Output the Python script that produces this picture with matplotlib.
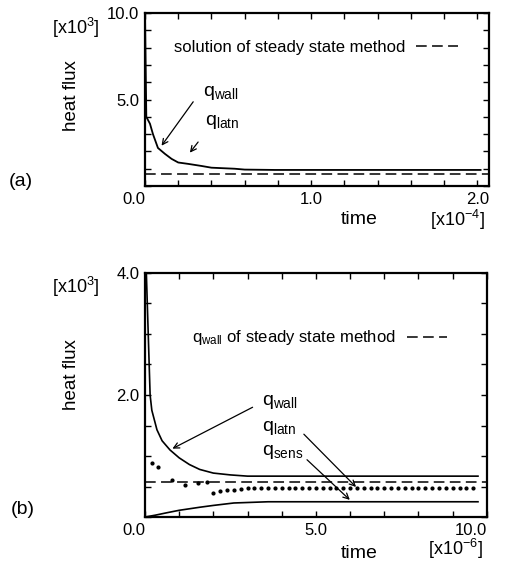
import numpy as np
import matplotlib
matplotlib.use("Agg")
import matplotlib.pyplot as plt

plt.rcParams['font.family'] = ['Liberation Sans', 'DejaVu Sans']
plt.rcParams['mathtext.fontset'] = 'custom'
plt.rcParams['mathtext.rm'] = 'Liberation Sans'
plt.rcParams['mathtext.it'] = 'Liberation Sans:italic'
plt.rcParams['mathtext.bf'] = 'Liberation Sans:bold'

# ---- panel (a): time in 1e-4, heat flux in 1e3
a_time = [0.0, 0.008, 0.03, 0.048, 0.078, 0.12, 0.16, 0.2, 0.26, 0.34, 0.4,
          0.54, 0.6, 0.78, 1.0, 1.5, 2.02]
a_qwall = [10.0, 4.0, 3.6, 3.0, 2.2, 1.86, 1.57, 1.36, 1.28, 1.16, 1.06,
           1.0, 0.95, 0.93, 0.93, 0.93, 0.93]
a_steady = 0.72

# ---- panel (b): time in 1e-6, heat flux in 1e3
b_time_wall = [0.04, 0.15, 0.2, 0.35, 0.5, 0.73, 1.0, 1.3, 1.6, 2.0, 2.5, 3.0,
               4.0, 9.74]
b_qwall = [4.0, 2.0, 1.75, 1.43, 1.25, 1.1, 0.97, 0.86, 0.78, 0.72, 0.69,
           0.67, 0.67, 0.67]
b_time_sens = [0.0, 0.3, 0.64, 1.0, 1.6, 2.0, 2.6, 3.6, 5.0, 9.74]
b_qsens = [0.0, 0.03, 0.07, 0.11, 0.16, 0.19, 0.23, 0.25, 0.25, 0.25]
b_time_latn = [0.2, 0.38, 0.8, 1.17, 1.55, 1.8, 2.0, 2.2, 2.4, 2.6, 2.8, 3.0,
               3.2, 3.4, 3.6, 3.8, 4.0, 4.2, 4.4, 4.6, 4.8, 5.0, 5.2, 5.4,
               5.6, 5.8, 6.0, 6.2, 6.4, 6.6, 6.8, 7.0, 7.2, 7.4, 7.6, 7.8,
               8.0, 8.2, 8.4, 8.6, 8.8, 9.0, 9.2, 9.4, 9.6]
b_qlatn = [0.88, 0.82, 0.60, 0.53, 0.56, 0.57, 0.40, 0.42, 0.44, 0.45, 0.46,
           0.47, 0.47, 0.47, 0.47, 0.47, 0.47, 0.47, 0.47, 0.47, 0.47, 0.47,
           0.47, 0.47, 0.47, 0.47, 0.47, 0.47, 0.47, 0.47, 0.47, 0.47, 0.47,
           0.47, 0.47, 0.47, 0.47, 0.47, 0.47, 0.47, 0.47, 0.47, 0.47, 0.47,
           0.47]
b_steady = 0.57

dash = (0, (7, 3.5))

fig = plt.figure(figsize=(5.08, 5.61), dpi=100)
ax1 = fig.add_axes([0.2854, 0.6684, 0.677, 0.3084])
ax2 = fig.add_axes([0.2854, 0.0784, 0.673, 0.4350])


def style(ax):
    for s in ax.spines.values():
        s.set_linewidth(1.6)
    ax.tick_params(which='both', direction='in', top=True, right=True,
                   length=4, width=1.0, labelsize=12, pad=4)


# (a)
ax1.plot(a_time, a_qwall, color='black', lw=1.3)
st1 = ax1.axhline(a_steady, color='black', lw=1.1, linestyle=dash)
ax1.set_xlim(0, 2.07)
ax1.set_ylim(0, 10)
ax1.set_xticks([0, 1, 2])
ax1.set_xticklabels(['0.0', '1.0', '2.0'])
ax1.set_xticks(np.arange(0, 2.07, 0.2), minor=True)
ax1.set_yticks([5, 10])
ax1.set_yticklabels(['5.0', '10.0'])
ax1.set_yticks(np.arange(0, 10.01, 1.0), minor=True)
style(ax1)
ax1.get_xticklabels()[0].set_ha('right')
ax1.set_ylabel('heat flux', fontsize=13.5)
ax1.yaxis.set_label_coords(-0.189, 0.52)
ax1.set_xlabel('time', fontsize=14, va='top')
ax1.xaxis.set_label_coords(0.622, -0.145)
ax1.legend([st1], ['solution of steady state method'], markerfirst=False,
           frameon=False, loc='center', bbox_to_anchor=(0.497, 0.80),
           handlelength=2.5, handletextpad=0.66, fontsize=12)
ax1.text(0.35, 5.4, r'$\mathrm{q_{wall}}$', fontsize=14, va='center')
ax1.annotate('', xy=(0.09, 2.2), xytext=(0.30, 5.0),
             arrowprops=dict(arrowstyle='->', lw=0.9, color='black'))
ax1.text(0.36, 3.7, r'$\mathrm{q_{latn}}$', fontsize=14, va='center')
ax1.annotate('', xy=(0.26, 1.8), xytext=(0.33, 2.67),
             arrowprops=dict(arrowstyle='->', lw=0.9, color='black'))

# (b)
ax2.plot(b_time_wall, b_qwall, color='black', lw=1.2)
ax2.plot(b_time_sens, b_qsens, color='black', lw=1.2)
ax2.plot(b_time_latn, b_qlatn, linestyle='none', marker='o', ms=2.0,
         color='black')
st2 = ax2.axhline(b_steady, color='black', lw=1.1, linestyle=dash)
ax2.set_xlim(0, 10)
ax2.set_ylim(0, 4)
ax2.set_xticks([0, 5, 10])
ax2.set_xticklabels(['0.0', '5.0', '10.0'])
ax2.set_xticks(np.arange(0, 10.01, 1.0), minor=True)
ax2.set_yticks([2, 4])
ax2.set_yticklabels(['2.0', '4.0'])
ax2.set_yticks(np.arange(0, 4.01, 0.5), minor=True)
style(ax2)
ax2.get_xticklabels()[0].set_ha('right')
ax2.get_xticklabels()[2].set_ha('right')
ax2.set_ylabel('heat flux', fontsize=13.5)
ax2.yaxis.set_label_coords(-0.19, 0.582)
ax2.set_xlabel('time', fontsize=14, va='top')
ax2.xaxis.set_label_coords(0.626, -0.115)
ax2.legend([st2], [r'$\mathrm{q_{wall}}$ of steady state method'],
           markerfirst=False, frameon=False, loc='center',
           bbox_to_anchor=(0.51, 0.734), handlelength=2.4,
           handletextpad=0.66, fontsize=12)
ax2.text(3.42, 1.89, r'$\mathrm{q_{wall}}$', fontsize=14, va='center')
ax2.annotate('', xy=(0.73, 1.10), xytext=(3.22, 1.82),
             arrowprops=dict(arrowstyle='->', lw=0.9, color='black'))
ax2.text(3.42, 1.46, r'$\mathrm{q_{latn}}$', fontsize=14, va='center')
ax2.annotate('', xy=(6.23, 0.46), xytext=(4.59, 1.39),
             arrowprops=dict(arrowstyle='->', lw=0.9, color='black'))
ax2.text(3.42, 1.07, r'$\mathrm{q_{sens}}$', fontsize=14, va='center')
ax2.annotate('', xy=(6.05, 0.25), xytext=(4.68, 0.97),
             arrowprops=dict(arrowstyle='->', lw=0.9, color='black'))

# unit and panel labels
fig.text(0.1496, 0.950, r'[x10$^{3}$]', fontsize=13, ha='center', va='center')
fig.text(0.1496, 0.4884, r'[x10$^{3}$]', fontsize=13, ha='center', va='center')
fig.text(0.8996, 0.608, r'[x10$^{-4}$]', fontsize=13, ha='center', va='center')
fig.text(0.8957, 0.021, r'[x10$^{-6}$]', fontsize=13, ha='center', va='center')
fig.text(0.041, 0.676, '(a)', fontsize=14, ha='center', va='center')
fig.text(0.045, 0.091, '(b)', fontsize=14, ha='center', va='center')

fig.savefig('out.png', dpi=100)
